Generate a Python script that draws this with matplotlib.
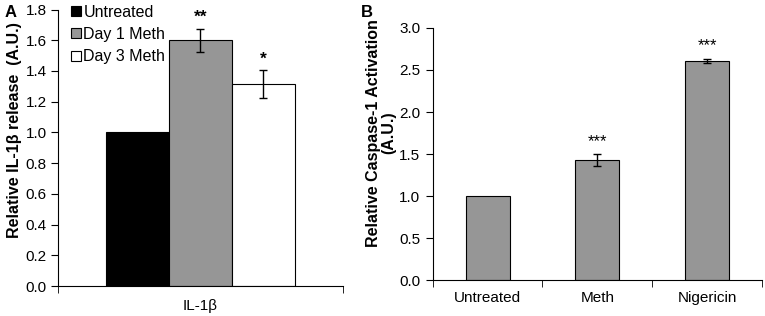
import numpy as np
import matplotlib.pyplot as plt

plt.rcParams['font.family'] = ['Liberation Sans', 'DejaVu Sans']
plt.rcParams['font.size'] = 11

# panel A data
a_groups = ['Untreated', 'Day 1 Meth', 'Day 3 Meth']
a_values = [1.0, 1.60, 1.315]
a_errors = [0.0, 0.076, 0.09]
a_stars = ['', '**', '*']
a_colors = ['black', '#969696', 'white']

# panel B data
b_cats = ['Untreated', 'Meth', 'Nigericin']
b_values = [1.0, 1.43, 2.61]
b_errors = [0.0, 0.07, 0.025]
b_stars = ['', '***', '***']

fig = plt.figure(figsize=(7.65, 3.16), dpi=100)
axA = fig.add_axes([0.0758, 0.0949, 0.3725, 0.875])
axB = fig.add_axes([0.5656, 0.1139, 0.4305, 0.7975])

# --- panel A ---
w = 0.22
offsets = [-w, 0, w]
for i in range(len(a_groups)):
    axA.bar(offsets[i], a_values[i], width=w, color=a_colors[i],
            edgecolor='black', linewidth=0.8, label=a_groups[i], zorder=2)
    if a_errors[i] > 0:
        axA.errorbar(offsets[i], a_values[i], yerr=a_errors[i], fmt='none',
                     ecolor='black', elinewidth=1, capsize=3, capthick=1, zorder=3)
    if a_stars[i]:
        axA.text(offsets[i], a_values[i] + a_errors[i] + 0.025, a_stars[i],
                 ha='center', va='bottom', fontsize=12.5, fontweight='bold')

axA.set_xlim(-0.5, 0.5)
axA.set_ylim(0, 1.8)
axA.set_yticks(np.arange(0, 1.81, 0.2))
axA.set_yticklabels([f'{v:.1f}' for v in np.arange(0, 1.81, 0.2)])
axA.set_xticks([-0.5, 0.5], minor=True)
axA.set_xticks([0])
axA.set_xticklabels(['IL-1β'])
axA.tick_params(axis='x', which='major', length=0, pad=9)
axA.tick_params(axis='x', which='minor', length=5, direction='out')
axA.tick_params(axis='y', length=5, direction='out', pad=3)
axA.set_ylabel('Relative IL-1β release  (A.U.)', fontweight='bold', fontsize=11.5)
axA.yaxis.set_label_coords(-0.128, 0.565)
for s in ['top', 'right']:
    axA.spines[s].set_visible(False)
axA.legend(loc='upper left', bbox_to_anchor=(0.025, 1.04), frameon=False,
           handlelength=0.6, handleheight=0.6, handletextpad=0.15,
           labelspacing=0.45, borderaxespad=0, fontsize=11.5)
fig.text(0.006, 0.962, 'A', fontweight='bold', fontsize=12, va='center')

# --- panel B ---
x = np.arange(len(b_cats))
axB.bar(x, b_values, width=0.4, color='#969696', edgecolor='black',
        linewidth=0.8, zorder=2)
for i in range(len(b_cats)):
    if b_errors[i] > 0:
        axB.errorbar(x[i], b_values[i], yerr=b_errors[i], fmt='none',
                     ecolor='black', elinewidth=1, capsize=3, capthick=1, zorder=3)
    if b_stars[i]:
        axB.text(x[i], b_values[i] + b_errors[i] + 0.06, b_stars[i],
                 ha='center', va='bottom', fontsize=12)

axB.set_xlim(-0.5, len(b_cats) - 0.5)
axB.set_ylim(0, 3.0)
axB.set_yticks(np.arange(0, 3.01, 0.5))
axB.set_yticklabels([f'{v:.1f}' for v in np.arange(0, 3.01, 0.5)])
axB.set_xticks(x)
axB.set_xticklabels(b_cats)
axB.set_xticks(np.arange(-0.5, len(b_cats), 1.0), minor=True)
axB.tick_params(axis='x', which='major', length=0, pad=8)
axB.tick_params(axis='x', which='minor', length=5, direction='out')
axB.tick_params(axis='y', length=5, direction='out', pad=4)
axB.set_ylabel('Relative Caspase-1 Activation\n(A.U.)', fontweight='bold',
               fontsize=11.5, linespacing=1.0)
axB.yaxis.set_label_coords(-0.112, 0.585)
for s in ['top', 'right']:
    axB.spines[s].set_visible(False)
fig.text(0.472, 0.962, 'B', fontweight='bold', fontsize=12, va='center')

fig.savefig('out.png', dpi=100)
